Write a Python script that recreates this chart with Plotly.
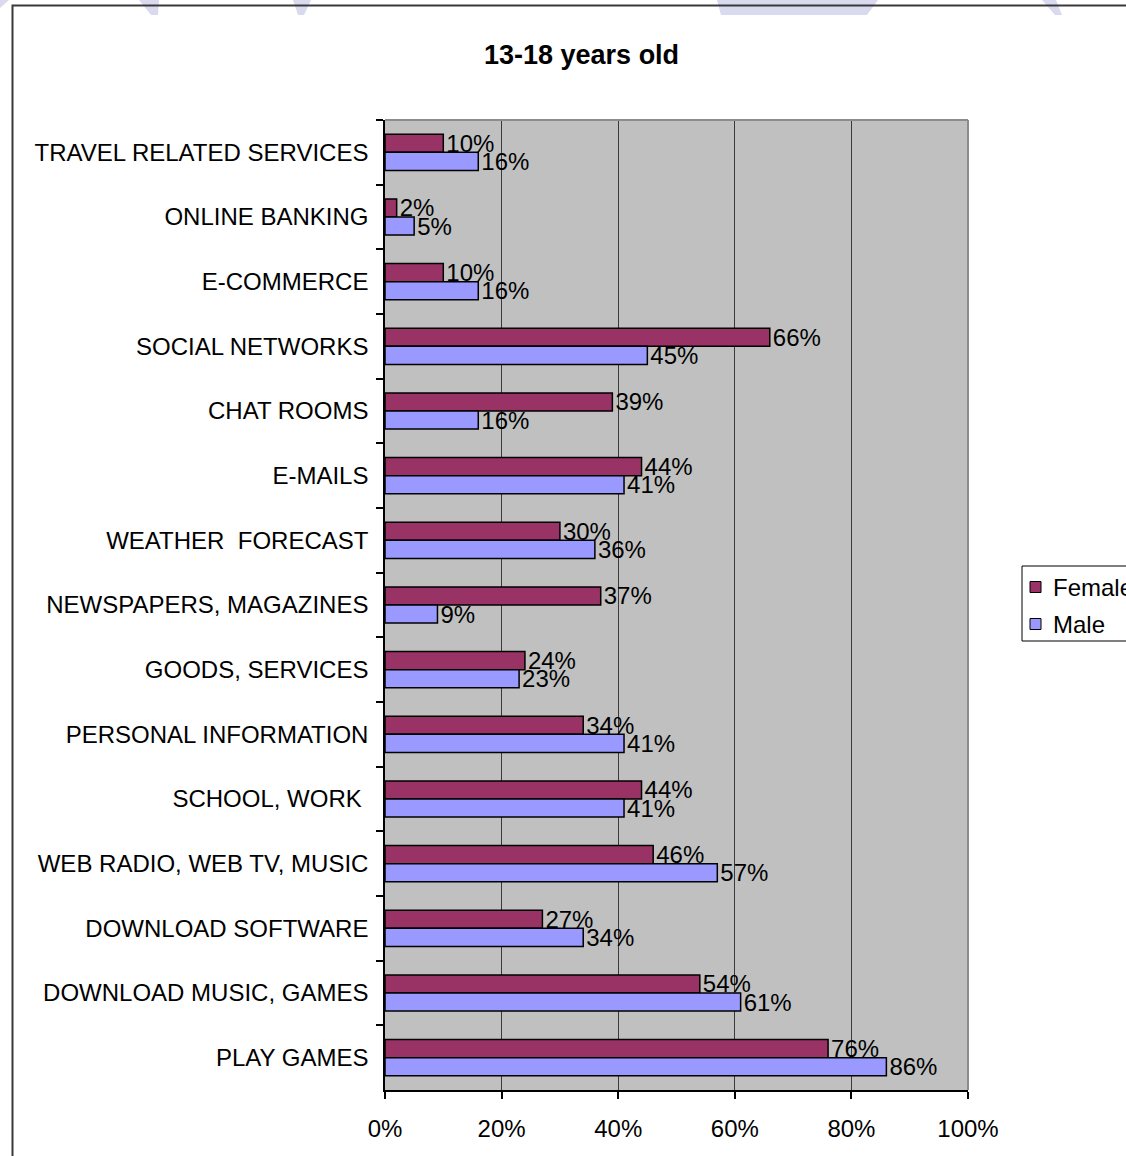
import plotly.graph_objects as go

# Internet activities of 13-18 year olds, listed top to bottom as shown
categories = [
    "TRAVEL RELATED SERVICES",
    "ONLINE BANKING",
    "E-COMMERCE",
    "SOCIAL NETWORKS",
    "CHAT ROOMS",
    "E-MAILS",
    "WEATHER\u00a0\u00a0FORECAST",
    "NEWSPAPERS, MAGAZINES",
    "GOODS, SERVICES",
    "PERSONAL INFORMATION",
    "SCHOOL, WORK\u00a0",
    "WEB RADIO, WEB TV, MUSIC",
    "DOWNLOAD SOFTWARE",
    "DOWNLOAD MUSIC, GAMES",
    "PLAY GAMES",
]
female = [10, 2, 10, 66, 39, 44, 30, 37, 24, 34, 44, 46, 27, 54, 76]
male = [16, 5, 16, 45, 16, 41, 36, 9, 23, 41, 41, 57, 34, 61, 86]

series_names = ["Female", "Male"]
series_colors = ["#993366", "#9999FF"]

x_ticks = [0, 20, 40, 60, 80, 100]
title_text = "13-18 years old"

FONT = "Arial, 'Liberation Sans', sans-serif"
FS = 24

# page and plot-area geometry (pixels)
W, H = 1126, 1156
PL, PR, PT, PB = 385, 968, 120, 1090


def xp(px):
    return (px - PL) / (PR - PL)


def yp(py):
    return (PB - py) / (PB - PT)


fig = go.Figure()
for name, vals, color in zip(series_names, [female, male], series_colors):
    fig.add_trace(go.Bar(
        y=categories,
        x=vals,
        orientation="h",
        name=name,
        marker=dict(color=color, line=dict(color="#000000", width=1.5)),
        text=[f"{v}%" for v in vals],
        textposition="outside",
        textangle=0,
        constraintext="none",
        cliponaxis=False,
        textfont=dict(family=FONT, size=FS, color="#000000"),
        showlegend=False,
    ))

shapes = []

# pale decorative strips along the top edge of the page
lavender = "#D9D9EF"
for pts in [
    [(0, 0), (9, 0), (0, 8)],
    [(139, 0), (159, 0), (158, 15), (151, 15)],
    [(293, 0), (311, 0), (304, 15), (298, 15)],
    [(717, 0), (878, 0), (867, 15), (721, 15)],
    [(1042, 0), (1056, 0), (1062, 15), (1055, 15)],
]:
    path = "M " + " L ".join(f"{xp(a)},{yp(b)}" for a, b in pts) + " Z"
    shapes.append(dict(type="path", path=path, xref="paper", yref="paper",
                       fillcolor=lavender, line=dict(width=0), layer="below"))

# chart-area frame
shapes.append(dict(type="rect", xref="paper", yref="paper",
                   x0=xp(12.5), x1=xp(1150), y0=yp(5.5), y1=yp(1180),
                   line=dict(color="#3A3A3A", width=2), fillcolor="rgba(0,0,0,0)",
                   layer="above"))

# grey top and right edges of the plot area
shapes.append(dict(type="line", xref="paper", yref="paper",
                   x0=0, x1=1, y0=1, y1=1,
                   line=dict(color="#8C8C8C", width=2), layer="above"))
shapes.append(dict(type="line", xref="paper", yref="paper",
                   x0=1, x1=1, y0=0, y1=1,
                   line=dict(color="#8C8C8C", width=2), layer="above"))

# legend box and swatches
shapes.append(dict(type="rect", xref="paper", yref="paper",
                   x0=xp(1022), x1=xp(1160), y0=yp(566), y1=yp(641),
                   line=dict(color="#000000", width=1), fillcolor="#FFFFFF",
                   layer="above"))
legend_rows = [587, 624]
annotations = []
for name, color, cy in zip(series_names, series_colors, legend_rows):
    shapes.append(dict(type="rect", xref="paper", yref="paper",
                       x0=xp(1030), x1=xp(1041), y0=yp(cy - 5.5), y1=yp(cy + 5.5),
                       line=dict(color="#000000", width=1), fillcolor=color,
                       layer="above"))
    annotations.append(dict(text=name, xref="paper", yref="paper",
                            x=xp(1051), y=yp(cy), xanchor="left", yanchor="middle",
                            showarrow=False,
                            font=dict(family=FONT, size=FS, color="#000000")))

annotations.append(dict(text=f"<b>{title_text}</b>", xref="paper", yref="paper",
                        x=xp(581), y=yp(55), xanchor="center", yanchor="middle",
                        showarrow=False,
                        font=dict(family=FONT, size=27, color="#000000")))

fig.update_layout(
    width=W,
    height=H,
    margin=dict(l=PL, r=W - PR, t=PT, b=H - PB, autoexpand=False),
    paper_bgcolor="#FFFFFF",
    plot_bgcolor="#C0C0C0",
    barmode="group",
    bargap=0.44,
    bargroupgap=0,
    showlegend=False,
    shapes=shapes,
    annotations=annotations,
    font=dict(family=FONT, size=FS, color="#000000"),
)

fig.update_xaxes(
    range=[0, 100],
    tickvals=x_ticks,
    ticktext=[f"{v}%" for v in x_ticks],
    ticks="outside",
    ticklen=7,
    tickwidth=1.5,
    tickcolor="#000000",
    showline=True,
    linecolor="#000000",
    linewidth=1.5,
    showgrid=True,
    gridcolor="#3A3A3A",
    gridwidth=1.2,
    zeroline=False,
    tickfont=dict(family=FONT, size=FS, color="#000000"),
    ticklabelstandoff=9,
    fixedrange=True,
)

fig.update_yaxes(
    type="category",
    categoryorder="array",
    categoryarray=categories,
    range=[len(categories) - 0.5, -0.5],
    tickson="boundaries",
    ticks="outside",
    ticklen=7,
    tickwidth=1.5,
    tickcolor="#000000",
    showline=True,
    linecolor="#000000",
    linewidth=1.5,
    showgrid=False,
    zeroline=False,
    tickfont=dict(family=FONT, size=FS, color="#000000"),
    ticklabelstandoff=10,
    fixedrange=True,
)

fig.write_html("out.html", config={"displayModeBar": False})
